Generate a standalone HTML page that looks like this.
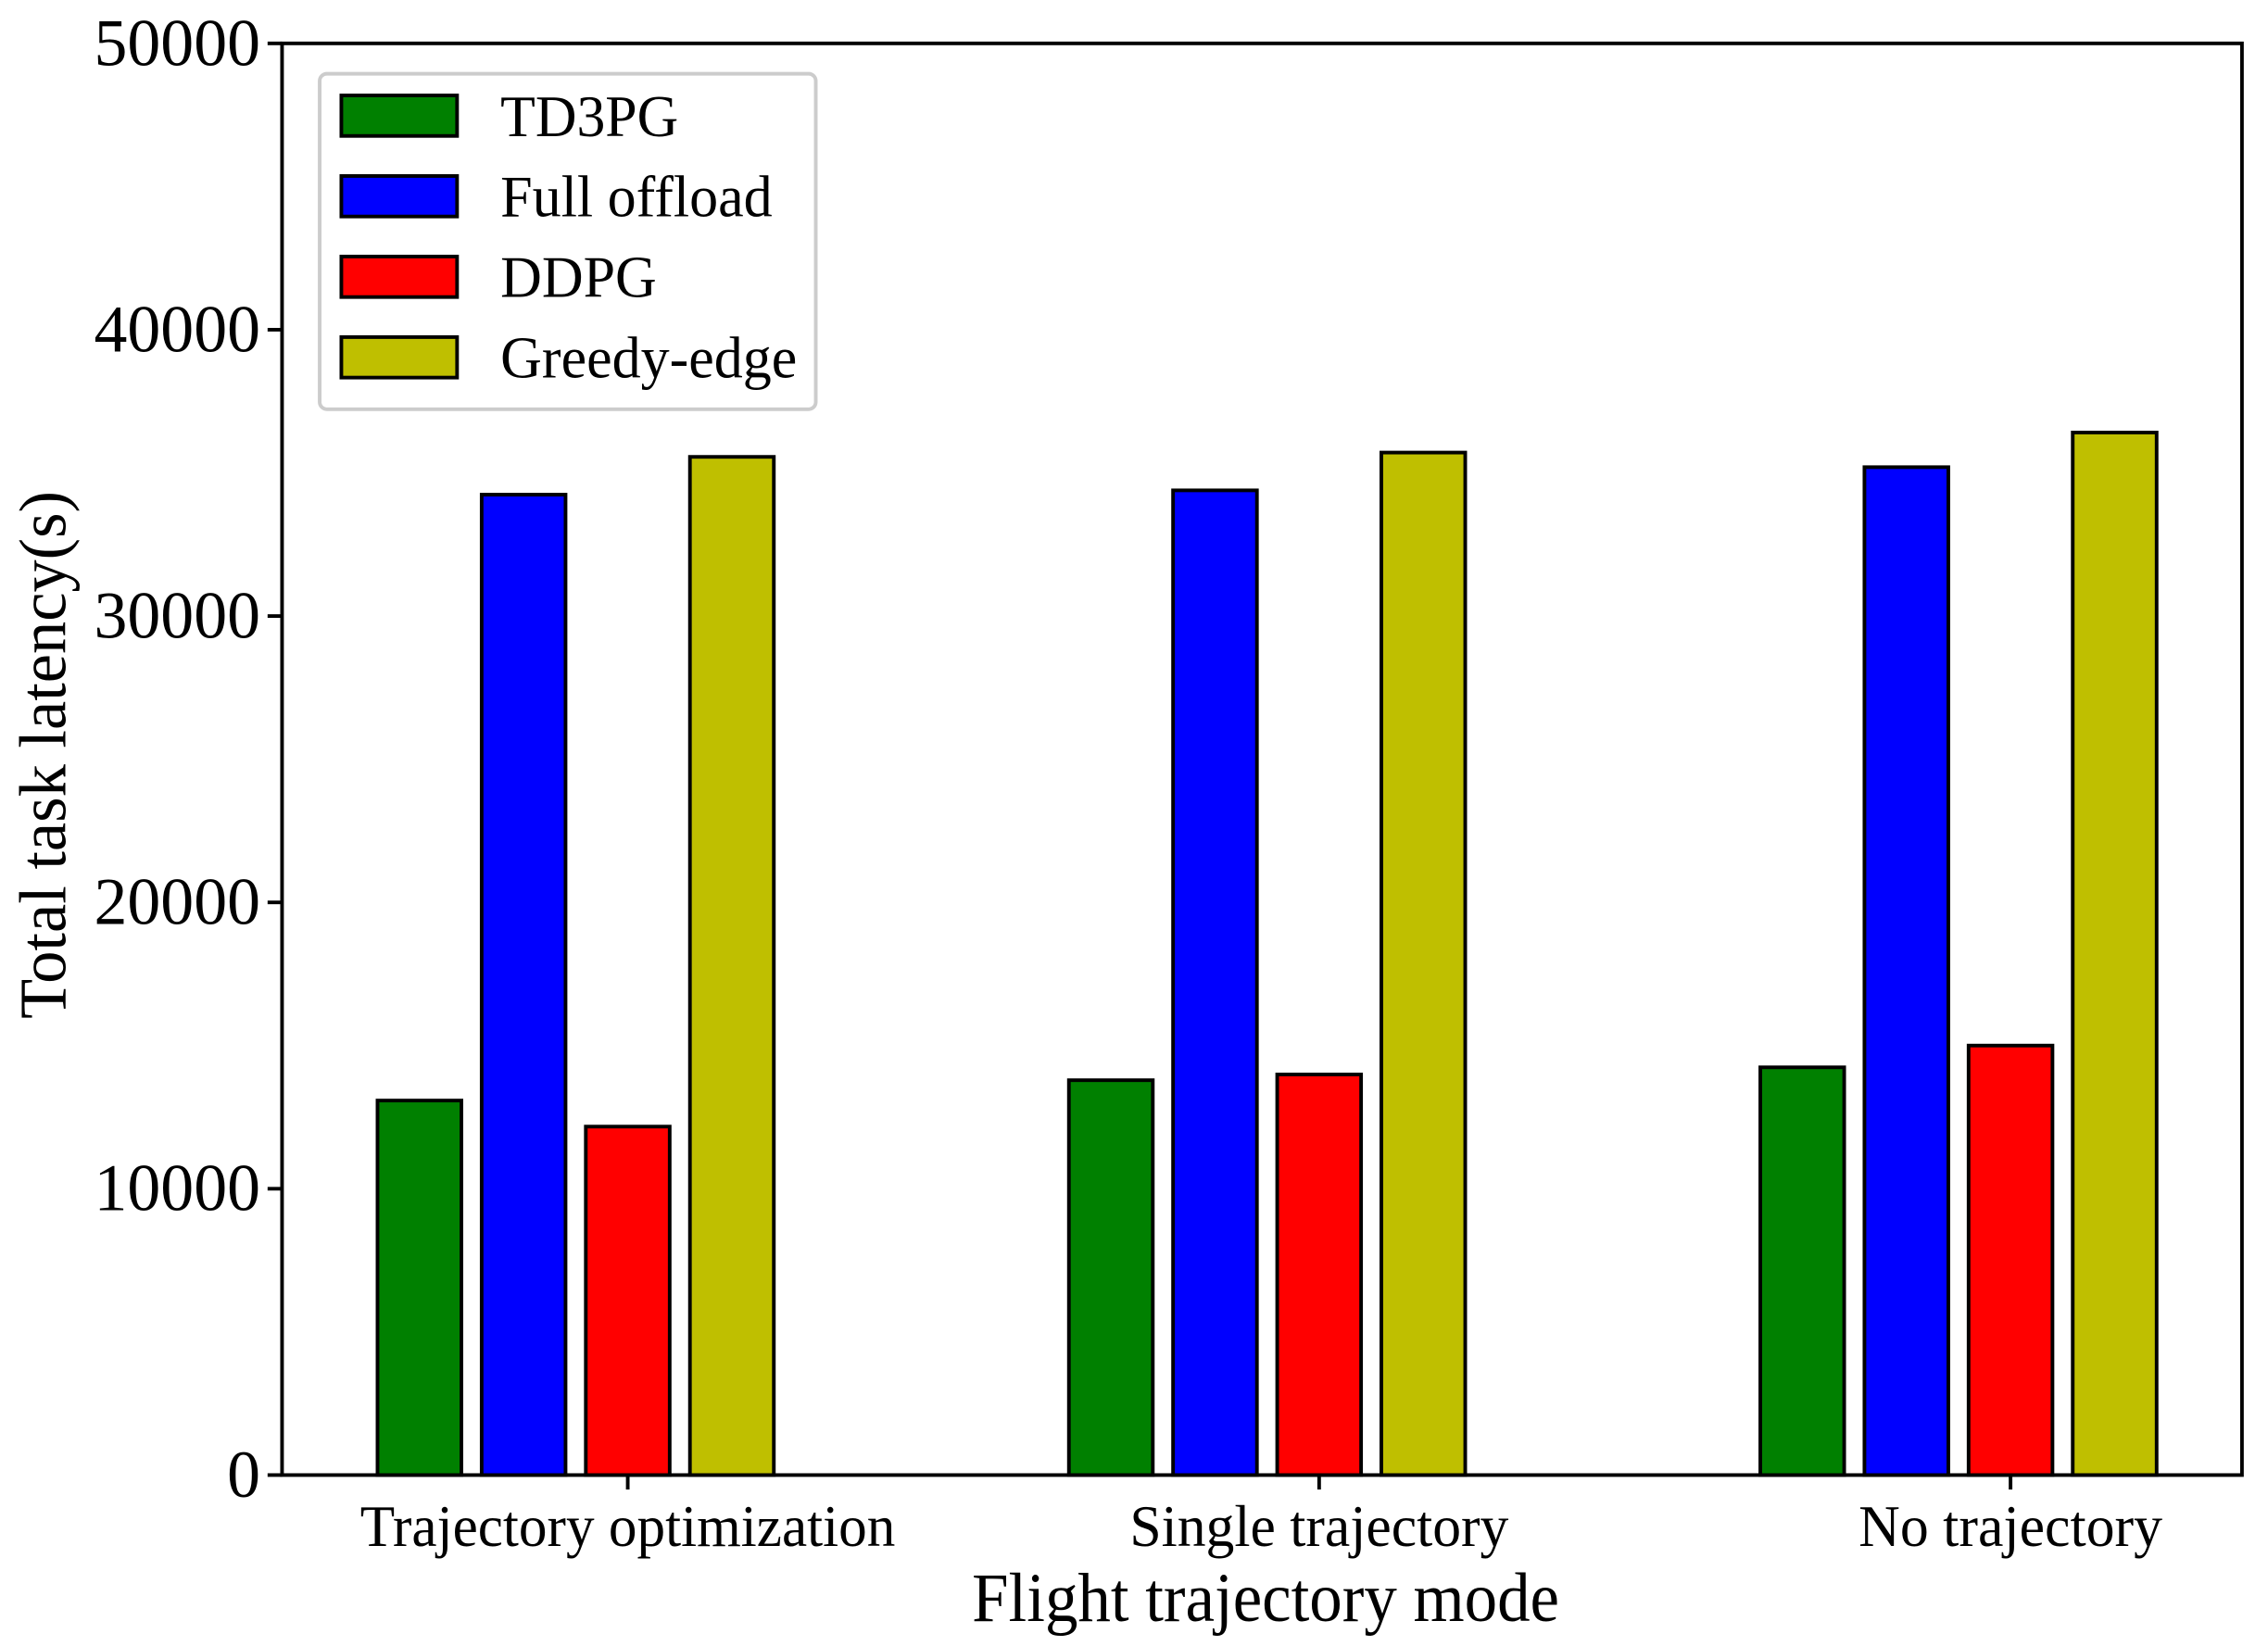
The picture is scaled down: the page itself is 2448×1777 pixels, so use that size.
<!DOCTYPE html>
<html><head><meta charset="utf-8"><style>
html,body{margin:0;padding:0;background:#fff;}
svg{display:block;}
text{font-family:"Liberation Serif",serif;fill:#000;}
</style></head><body>
<svg id="chart" width="2448" height="1777" viewBox="0 0 1568 1138.2" xmlns="http://www.w3.org/2000/svg">
<g id="bars"></g>
<rect x="195" y="30" width="1355" height="990" fill="none" stroke="#000" stroke-width="2.5"/>
<g id="yticks"></g>
<g id="xticks"></g>
<text x="875" y="1121" font-size="48" text-anchor="middle" textLength="406" lengthAdjust="spacingAndGlyphs">Flight trajectory mode</text>
<text transform="translate(45,522) rotate(-90)" font-size="46" text-anchor="middle" textLength="365" lengthAdjust="spacingAndGlyphs">Total task latency(s)</text>
<g>
<rect x="221" y="51" width="343" height="232" rx="5" fill="#fff" stroke="#ccc" stroke-width="2.5"/>
<g id="legend-items"></g>
</g>
<script>
const categories = ["Trajectory optimization", "Single trajectory", "No trajectory"];
const seriesNames = ["TD3PG", "Full offload", "DDPG", "Greedy-edge"];
const seriesColors = ["#008000", "#0000ff", "#ff0000", "#bfbf00"];
const td3pg = [13080, 13790, 14240];
const fullOffload = [34240, 34390, 35200];
const ddpg = [12170, 13990, 15000];
const greedyEdge = [35560, 35710, 36410];
const yTicks = [0, 10000, 20000, 30000, 40000, 50000];

const series = [td3pg, fullOffload, ddpg, greedyEdge];
const NS = "http://www.w3.org/2000/svg";
const X0 = 434, XSTEP = 478, BAR_OFF = 72, BAR_W = 58;
const Y0 = 1020, YTOP = 30, YMAX = 50000;
function xScale(i) { return X0 + i * XSTEP; }
function yScale(v) { return Y0 - (v / YMAX) * (Y0 - YTOP); }
function mk(tag, attrs, parent) {
  const e = document.createElementNS(NS, tag);
  for (const k in attrs) e.setAttribute(k, attrs[k]);
  parent.appendChild(e);
  return e;
}
const barsG = document.getElementById('bars');
series.forEach((vals, s) => {
  vals.forEach((v, i) => {
    const cx = xScale(i) + (s - 2) * BAR_OFF;
    const r = mk('rect', {x: cx - BAR_W / 2, y: yScale(v), width: BAR_W, height: Y0 - yScale(v), fill: seriesColors[s], stroke: '#000', 'stroke-width': 2.5}, barsG);
    
    
  });
});
const yg = document.getElementById('yticks');
yTicks.forEach(t => {
  const y = yScale(t);
  const l = mk('line', {x1: 185, x2: 195, y1: y, y2: y, stroke: '#000', 'stroke-width': 2.5}, yg);
  
  
  const s = String(t);
  const tx = mk('text', {x: 180, y: y + 15, 'font-size': 46, 'text-anchor': 'end', textLength: s.length * 23, lengthAdjust: 'spacingAndGlyphs'}, yg);
  tx.textContent = s;
  
  
});
const xg = document.getElementById('xticks');
const xLabelW = [370, 262, 210];
categories.forEach((c, i) => {
  const x = xScale(i);
  const l = mk('line', {x1: x, x2: x, y1: 1020, y2: 1030, stroke: '#000', 'stroke-width': 2.5}, xg);
  
  
  const tx = mk('text', {x: x, y: 1069, 'font-size': 41, 'text-anchor': 'middle', textLength: xLabelW[i], lengthAdjust: 'spacingAndGlyphs'}, xg);
  tx.textContent = c;
  
  
});
const lg = document.getElementById('legend-items');
const legendW = [123, 188, 108, 205];
seriesNames.forEach((n, s) => {
  const y = 80 + s * 55.7;
  const r = mk('rect', {x: 236, y: y - 14, width: 80, height: 28, fill: seriesColors[s], stroke: '#000', 'stroke-width': 2.5}, lg);
  
  
  const t = mk('text', {x: 346, y: y + 14, 'font-size': 41, textLength: legendW[s], lengthAdjust: 'spacingAndGlyphs'}, lg);
  t.textContent = n;
  
  
});
</script>
</svg>
</body></html>
